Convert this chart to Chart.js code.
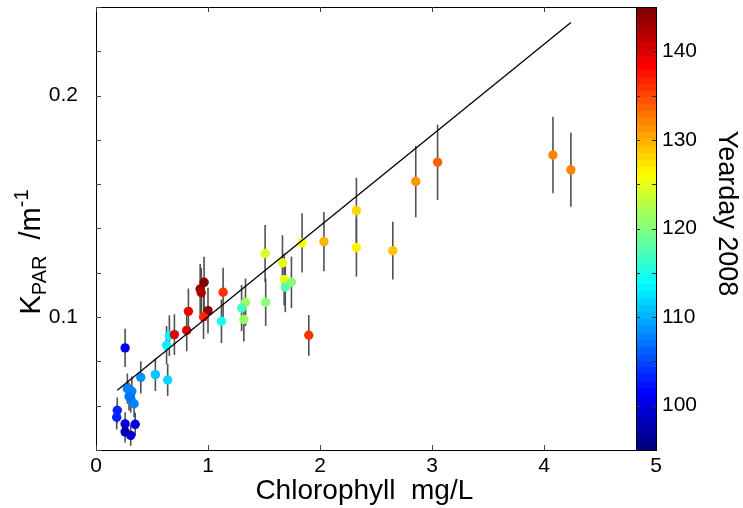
<!DOCTYPE html>
<html>
<head>
<meta charset="utf-8">
<script src="https://cdn.jsdelivr.net/npm/chart.js@4/dist/chart.umd.min.js"></script>
<style>
  html, body { margin: 0; padding: 0; background: #fff; }
  canvas { display: block; }
</style>
</head>
<body>
<canvas id="chart" width="743" height="508"></canvas>
<script>
// values
const chlorophyll = [0.19, 0.185, 0.26, 0.35, 0.26, 0.31, 0.28, 0.32, 0.295, 0.31, 0.34, 0.26, 0.40, 0.53, 0.64, 0.63,
  0.655, 0.70, 0.81, 0.825, 0.965, 0.93, 0.94, 1.00, 0.96, 1.135, 1.12, 1.335, 1.30, 1.32, 1.515, 1.51, 1.665, 1.68,
  1.69, 1.745, 1.84, 1.90, 2.035, 2.325, 2.325, 2.65, 2.855, 3.05, 4.08, 4.24];
const kpar = [0.0579, 0.0548, 0.0518, 0.0516, 0.0482, 0.0466, 0.0677, 0.0665, 0.0642, 0.0632, 0.0609, 0.0861, 0.0728,
  0.0740, 0.0716, 0.0873, 0.0916, 0.0921, 0.0940, 0.1026, 0.1157, 0.1127, 0.1110, 0.1029, 0.1001, 0.1112, 0.0981,
  0.1067, 0.1041, 0.0989, 0.1067, 0.1287, 0.1245, 0.1169, 0.1136, 0.1157, 0.1335, 0.0918, 0.1341, 0.1481, 0.1314,
  0.1300, 0.1612, 0.1699, 0.1732, 0.1665];
const kparErr = [0.0058, 0.0055, 0.0052, 0.0052, 0.0048, 0.0047, 0.0068, 0.0067, 0.0064, 0.0063, 0.0061, 0.0086, 0.0073,
  0.0074, 0.0072, 0.0087, 0.0092, 0.0092, 0.0094, 0.0103, 0.0116, 0.0113, 0.0111, 0.0103, 0.0100, 0.0111, 0.0098,
  0.0107, 0.0104, 0.0099, 0.0107, 0.0129, 0.0125, 0.0117, 0.0114, 0.0116, 0.0134, 0.0092, 0.0134, 0.0148, 0.0131,
  0.0130, 0.0161, 0.0170, 0.0173, 0.0167];
const yearday = [103, 103, 100, 100, 98, 99, 108, 108, 107, 107, 108, 101, 109, 111, 112, 113, 113, 140, 140, 139,
  145, 144, 142, 144, 137, 136, 115, 121, 117, 121, 120, 124, 125, 125, 118, 120, 126, 136, 130, 128, 127, 129,
  131, 134, 132, 132];
const fitX = [0.19, 4.24];
const fitY = [0.067, 0.233];

const xTicks = [0, 1, 2, 3, 4, 5];
const yTicks = [0.04, 0.06, 0.08, 0.1, 0.12, 0.14, 0.16, 0.18, 0.2, 0.22, 0.24];
const yLabelTicks = [0.1, 0.2];
const dayTicks = [100, 110, 120, 130, 140];
const dayMinorTicks = [100, 105, 110, 115, 120, 125, 130, 135, 140];
const dayMin = 95, dayMax = 145;

const FONT = "'Liberation Sans', Arial, Helvetica, sans-serif";

// matlab jet, 64 levels
function jet(day) {
  let i = Math.floor((day - dayMin) / (dayMax - dayMin) * 64);
  i = Math.max(0, Math.min(63, i));
  const t = i / 63;
  const c = v => Math.round(255 * Math.max(0, Math.min(1, v)));
  return `rgb(${c(1.5 - Math.abs(4 * t - 3))},${c(1.5 - Math.abs(4 * t - 2))},${c(1.5 - Math.abs(4 * t - 1))})`;
}

function noPad(s) {
  s.paddingTop = 0; s.paddingBottom = 0; s.paddingLeft = 0; s.paddingRight = 0;
}

const errorBars = {
  id: "errorBars",
  beforeDatasetsDraw(chart) {
    const { ctx, scales: { x, y } } = chart;
    ctx.save();
    ctx.strokeStyle = "#505050";
    ctx.lineWidth = 1.6;
    chlorophyll.forEach((c, i) => {
      const px = x.getPixelForValue(c);
      ctx.beginPath();
      ctx.moveTo(px, y.getPixelForValue(kpar[i] - kparErr[i]));
      ctx.lineTo(px, y.getPixelForValue(kpar[i] + kparErr[i]));
      ctx.stroke();
    });
    ctx.restore();
  }
};

const frame = {
  id: "frame",
  afterDraw(chart) {
    const { ctx, chartArea: a, scales: { x, y, c } } = chart;
    ctx.save();
    // axes box + inward ticks
    ctx.strokeStyle = "#000";
    ctx.lineWidth = 1;
    ctx.strokeRect(a.left + 0.5, a.top + 0.5, a.right - a.left, a.bottom - a.top);
    ctx.strokeStyle = "#444";
    ctx.beginPath();
    yTicks.forEach(v => {
      const py = Math.round(y.getPixelForValue(v)) + 0.5;
      ctx.moveTo(a.left, py); ctx.lineTo(a.left + 5, py);
    });
    xTicks.forEach(v => {
      const px = Math.round(x.getPixelForValue(v)) + 0.5;
      ctx.moveTo(px, a.bottom); ctx.lineTo(px, a.bottom - 5);
      ctx.moveTo(px, a.top); ctx.lineTo(px, a.top + 5);
    });
    ctx.stroke();

    // colorbar
    const cbL = a.right - 20, cbR = a.right;
    const n = 64;
    for (let i = 0; i < n; i++) {
      const v0 = dayMin + (dayMax - dayMin) * i / n;
      const v1 = dayMin + (dayMax - dayMin) * (i + 1) / n;
      const y0 = c.getPixelForValue(v0), y1 = c.getPixelForValue(v1);
      ctx.fillStyle = jet((v0 + v1) / 2);
      ctx.fillRect(cbL, Math.floor(y1), cbR - cbL, Math.ceil(y0) - Math.floor(y1));
    }
    ctx.strokeStyle = "#000";
    ctx.strokeRect(cbL + 0.5, a.top + 0.5, cbR - cbL, a.bottom - a.top);
    ctx.strokeStyle = "#333";
    ctx.beginPath();
    dayMinorTicks.forEach(v => {
      const py = Math.round(c.getPixelForValue(v)) + 0.5;
      ctx.moveTo(cbL, py); ctx.lineTo(cbL + 4, py);
      ctx.moveTo(cbR, py); ctx.lineTo(cbR - 4, py);
    });
    ctx.stroke();

    // y title with sub/superscript
    ctx.fillStyle = "#000";
    ctx.textBaseline = "alphabetic";
    const parts = [
      { t: "K", s: 29, dy: 0 },
      { t: "PAR", s: 20, dy: 6 },
      { t: "  /m", s: 29, dy: 0 },
      { t: "-1", s: 20, dy: -12 }
    ];
    let total = 0;
    parts.forEach(p => { ctx.font = `${p.s}px ${FONT}`; p.w = ctx.measureText(p.t).width; total += p.w; });
    ctx.translate(40, 252);
    ctx.rotate(-Math.PI / 2);
    let cx = -total / 2;
    parts.forEach(p => {
      ctx.font = `${p.s}px ${FONT}`;
      ctx.fillText(p.t, cx, p.dy);
      cx += p.w;
    });
    ctx.restore();
  }
};

new Chart(document.getElementById("chart"), {
  data: {
    datasets: [
      {
        type: "line",
        data: fitX.map((v, i) => ({ x: v, y: fitY[i] })),
        borderColor: "#000",
        borderWidth: 1.3,
        pointRadius: 0,
        fill: false,
        order: 0
      },
      {
        type: "scatter",
        data: chlorophyll.map((v, i) => ({ x: v, y: kpar[i] })),
        backgroundColor: yearday.map(jet),
        borderWidth: 0,
        pointRadius: 4.7,
        order: 1
      }
    ]
  },
  options: {
    responsive: false,
    animation: false,
    devicePixelRatio: 1,
    layout: { padding: { top: 7, left: 0, right: 0, bottom: 0 } },
    plugins: { legend: { display: false }, tooltip: { enabled: false } },
    scales: {
      x: {
        type: "linear",
        min: 0, max: 5,
        afterBuildTicks: s => { s.ticks = xTicks.map(v => ({ value: v })); },
        afterFit: s => { s.height = 58; noPad(s); },
        grid: { display: false, drawTicks: false },
        border: { display: false },
        ticks: { color: "#000", font: { family: FONT, size: 21 }, padding: 4 },
        title: { display: true, text: "Chlorophyll  mg/L\u00a0\u00a0\u00a0", color: "#000", font: { family: FONT, size: 28 }, padding: { top: 0, bottom: 0 } }
      },
      y: {
        type: "linear",
        position: "left",
        min: 0.04, max: 0.24,
        afterBuildTicks: s => { s.ticks = yTicks.map(v => ({ value: v })); },
        afterFit: s => { s.width = 96; noPad(s); },
        grid: { display: false, drawTicks: false },
        border: { display: false },
        ticks: {
          color: "#000", font: { family: FONT, size: 21 }, padding: 18,
          callback: v => yLabelTicks.some(t => Math.abs(t - v) < 1e-9) ? String(v) : ""
        }
      },
      c: {
        type: "linear",
        position: "right",
        min: dayMin, max: dayMax,
        afterBuildTicks: s => { s.ticks = dayTicks.map(v => ({ value: v })); },
        afterFit: s => { s.width = 87; noPad(s); },
        grid: { display: false, drawTicks: false },
        border: { display: false },
        ticks: { color: "#000", font: { family: FONT, size: 21 }, padding: 6 },
        title: { display: true, text: "Yearday 2008\u00a0\u00a0\u00a0\u00a0", color: "#000", font: { family: FONT, size: 27 }, padding: 0 }
      }
    }
  },
  plugins: [errorBars, frame]
});
</script>
</body>
</html>
